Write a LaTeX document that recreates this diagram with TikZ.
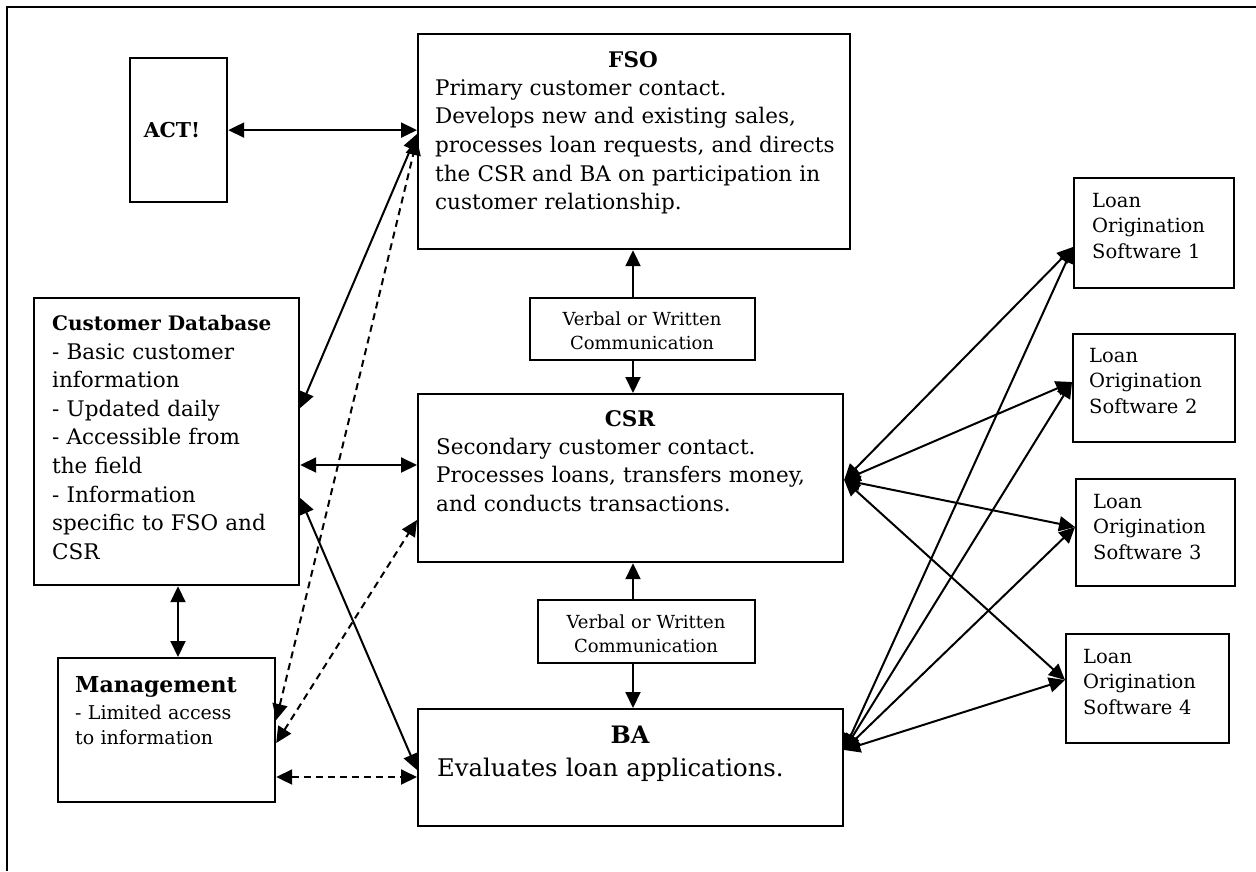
\documentclass[tikz,border=0pt]{standalone}
\usepackage{fontspec}
\setmainfont{DejaVu Serif}
\usetikzlibrary{arrows.meta,calc}
\newcommand{\fs}[2]{\fontsize{#1pt}{#2pt}\selectfont}
\begin{document}
\begin{tikzpicture}[x=1pt,y=-1pt,
  box/.style={draw, line width=2.2pt, inner sep=0pt, anchor=north west},
  txt/.style={anchor=base west, inner sep=0pt, align=left, text width=420pt},
  ctxt/.style={anchor=base, inner sep=0pt, align=center, text width=260pt},
  conn/.style={line width=2pt, {Triangle[length=16pt,width=15pt]}-{Triangle[length=16pt,width=15pt]}},
  oneway/.style={line width=2pt, -{Triangle[length=16pt,width=15pt]}},
  dconn/.style={conn, dash pattern=on 7pt off 5pt}
]
\useasboundingbox (0,0) rectangle (1256,871);
% frame
\draw[line width=2.8pt] (7,871) -- (7,7) -- (1256,7);

% boxes
\node[box, minimum width=97pt,  minimum height=144pt] (act)  at (129,57) {};
\node[box, minimum width=432pt, minimum height=215pt] (fso)  at (417,33) {};
\node[box, minimum width=225pt, minimum height=62pt]  (v1)   at (529,297) {};
\node[box, minimum width=425pt, minimum height=168pt] (csr)  at (417,393) {};
\node[box, minimum width=217pt, minimum height=63pt]  (v2)   at (537,599) {};
\node[box, minimum width=425pt, minimum height=117pt] (ba)   at (417,708) {};
\node[box, minimum width=265pt, minimum height=287pt] (cd)   at (33,297) {};
\node[box, minimum width=217pt, minimum height=144pt] (mgmt) at (57,657) {};
\node[box, minimum width=160pt, minimum height=110pt] (los1) at (1073,177) {};
\node[box, minimum width=162pt, minimum height=108pt] (los2) at (1072,333) {};
\node[box, minimum width=159pt, minimum height=107pt] (los3) at (1075,478) {};
\node[box, minimum width=163pt, minimum height=109pt] (los4) at (1065,633) {};

% texts
\node[anchor=base, inner sep=0pt, font=\fs{20.5}{24}\bfseries] (acttxt) at (172,137) {ACT!};
\node[anchor=base, inner sep=0pt, font=\fs{21.5}{28}\bfseries] (fsot) at (633,67) {FSO};
\node[txt, font=\fs{21.5}{28.7}] (fsob) at (435,95) {Primary customer contact.\\Develops new and existing sales,\\processes loan requests, and directs\\the CSR and BA on participation in\\customer relationship.};
\node[ctxt, font=\fs{18}{24.5}] (v1t) at (642,325) {Verbal or Written\\Communication};
\node[anchor=base, inner sep=0pt, font=\fs{21.5}{28}\bfseries] (csrt) at (630,426) {CSR};
\node[txt, font=\fs{21.5}{28.8}] (csrb) at (436,454) {Secondary customer contact.\\Processes loans, transfers money,\\and conducts transactions.};
\node[ctxt, font=\fs{18}{24.5}] (v2t) at (646,628) {Verbal or Written\\Communication};
\node[anchor=base, inner sep=0pt, font=\fs{24}{28}\bfseries] (bat) at (630,743) {BA};
\node[txt, font=\fs{24.3}{28}] (bab) at (437,776) {Evaluates loan applications.};
\node[anchor=base west, inner sep=0pt, font=\fs{20}{28}\bfseries] (cdt) at (52,330) {Customer Database};
\node[txt, font=\fs{21.5}{28.6}] (cdb) at (52,359) {- Basic customer\\information\\- Updated daily\\- Accessible from\\the field\\- Information\\specific to FSO and\\CSR};
\node[anchor=base west, inner sep=0pt, font=\fs{22}{28}\bfseries] (mgmtt) at (75,692) {Management};
\node[txt, font=\fs{19}{25}] (mgmtb) at (75,719) {- Limited access\\to information};
\node[txt, font=\fs{19.5}{25.5}] (los1t) at (1092,207) {Loan\\Origination\\Software 1};
\node[txt, font=\fs{19.5}{25.5}] (los2t) at (1089,362) {Loan\\Origination\\Software 2};
\node[txt, font=\fs{19.5}{25.5}] (los3t) at (1093,508) {Loan\\Origination\\Software 3};
\node[txt, font=\fs{19.5}{25.5}] (los4t) at (1083,663) {Loan\\Origination\\Software 4};

% hub coordinates
\coordinate (csrR) at ($(csr.north east)+(0,87)$);
\coordinate (baR)  at ($(ba.north east)+(0,42)$);
\coordinate (l1) at ($(los1.north west)+(0,70)$);
\coordinate (l2) at ($(los2.north west)+(0,49)$);
\coordinate (l3) at ($(los3.north west)+(0,49)$);
\coordinate (l4) at ($(los4.north west)+(0,47)$);

% connectors left side
\draw[conn] (act.east) -- (act.east -| fso.west);
\draw[conn] ($(cd.north east)+(0,111)$) -- ($(fso.north west)+(0,101)$);
\draw[dconn] ($(mgmt.north east)+(0,63)$) -- ($(fso.north west)+(0,106)$);
\draw[conn] ($(cd.north east)+(0,168)$) -- ($(csr.north west)+(0,72)$);
\draw[conn] ($(cd.north east)+(0,201)$) -- ($(ba.north west)+(0,62)$);
\draw[dconn] ($(mgmt.north east)+(0,86)$) -- ($(csr.north west)+(0,127)$);
\draw[dconn] ($(mgmt.north east)+(0,120)$) -- ($(ba.north west)+(0,69)$);
\draw[conn] ($(cd.south west)+(145,0)$) -- ($(mgmt.north west)+(121,0)$);

% verbal communication
\draw[oneway] ($(v1.north west)+(104,0)$) -- ($(fso.south west)+(216,0)$);
\draw[oneway] ($(v1.south west)+(104,0)$) -- ($(csr.north west)+(216,0)$);
\draw[oneway] ($(v2.north west)+(96,0)$) -- ($(csr.south west)+(216,0)$);
\draw[oneway] ($(v2.south west)+(96,0)$) -- ($(ba.north west)+(216,0)$);

% loan origination software
\foreach \t in {l1,l2,l3,l4}{
  \draw[conn] (csrR) -- (\t);
  \draw[conn] (baR) -- (\t);
}
\end{tikzpicture}
\end{document}
